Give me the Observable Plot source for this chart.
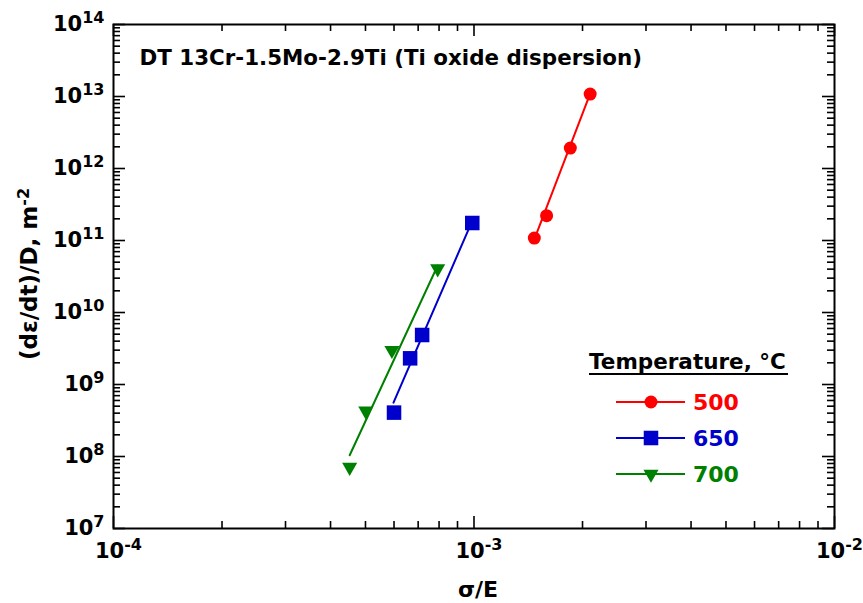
<!DOCTYPE html>
<html><head><meta charset="utf-8">
<script src="https://cdn.jsdelivr.net/npm/d3@7"></script>
<script src="https://cdn.jsdelivr.net/npm/@observablehq/plot@0.6"></script>
<style>body{margin:0;background:#fff} #chart svg{display:block}</style>
</head><body><div id="chart"></div>
<script>
// ---- data ----
const temps = ["500", "650", "700"];
const colors = ["#ff0000", "#0000cc", "#008000"];
const x500 = [1.47e-3, 1.59e-3, 1.85e-3, 2.10e-3];
const y500 = [1.08e11, 2.21e11, 1.92e12, 1.08e13];
const x650 = [6.0e-4, 6.65e-4, 7.18e-4, 9.89e-4];
const y650 = [4.07e8, 2.31e9, 4.87e9, 1.75e11];
const x700 = [4.52e-4, 5.01e-4, 5.92e-4, 7.93e-4];
const y700 = [7.1e7, 4.29e8, 2.98e9, 4.06e10];
// fitted lines (end points)
const fitX500 = [1.49e-3, 2.09e-3];
const fitY500 = [1.24e11, 1.03e13];
const fitX650 = [5.98e-4, 9.7e-4];
const fitY650 = [5.6e8, 1.5e11];
const fitX700 = [4.52e-4, 7.93e-4];
const fitY700 = [1.04e8, 4.5e10];
const xMajor = [1e-4, 1e-3, 1e-2];
const xTickLabels = ["10^-4", "10^-3", "10^-2"];
const yMajor = [1e7, 1e8, 1e9, 1e10, 1e11, 1e12, 1e13, 1e14];
const yTickLabels = ["10^7", "10^8", "10^9", "10^10", "10^11", "10^12", "10^13", "10^14"];
const titleText = "DT 13Cr-1.5Mo-2.9Ti (Ti oxide dispersion)";
const xLabel = "σ/E";
const yLabel = "(dε/dt)/D, m^-2";
const legendTitle = "Temperature, °C";

// ---- build tables ----
const xs = [x500, x650, x700], ys = [y500, y650, y700];
const fx = [fitX500, fitX650, fitX700], fy = [fitY500, fitY650, fitY700];
const pts = temps.flatMap((t, i) => xs[i].map((x, j) => ({t, x, y: ys[i][j]})));
const fits = temps.flatMap((t, i) => fx[i].map((x, j) => ({t, x, y: fy[i][j]})));
const minors = majors => majors.slice(0, -1).flatMap(m => [2,3,4,5,6,7,8,9].map(k => k * m));
const xMinor = minors(xMajor), yMinor = minors(yMajor);

const W = 863, H = 603, mL = 113, mR = 29, mT = 24, mB = 75;
const iw = W - mL - mR, ih = H - mT - mB;
const FONT = "'DejaVu Sans', Verdana, sans-serif";
const symbolOf = {"500": "circle", "650": "square", "700": "triangle"};
const rOf = {"500": 6.5, "650": 8.2, "700": 5.6};

const marks = [
  // inward ticks
  Plot.tickX(xMajor, {x: d => d, insetTop: ih - 12, strokeWidth: 1.6}),
  Plot.tickX(xMinor, {x: d => d, insetTop: ih - 7, strokeWidth: 1.6}),
  Plot.tickX(xMajor, {x: d => d, insetBottom: ih - 12, strokeWidth: 1.6}),
  Plot.tickX(xMinor, {x: d => d, insetBottom: ih - 7, strokeWidth: 1.6}),
  Plot.tickY(yMajor, {y: d => d, insetRight: iw - 12, strokeWidth: 1.6}),
  Plot.tickY(yMinor, {y: d => d, insetRight: iw - 7, strokeWidth: 1.6}),
  Plot.tickY(yMajor, {y: d => d, insetLeft: iw - 12, strokeWidth: 1.6}),
  Plot.tickY(yMinor, {y: d => d, insetLeft: iw - 7, strokeWidth: 1.6}),
  Plot.frame({stroke: "#000", strokeWidth: 2}),
  Plot.axisX({ticks: xMajor, tickSize: 0, tickPadding: 15, dx: 5, fontSize: 21,
    tickFormat: d => xTickLabels[xMajor.indexOf(d)], label: null}),
  Plot.axisY({ticks: yMajor, tickSize: 0, tickPadding: 9, fontSize: 21,
    tickFormat: d => yTickLabels[yMajor.indexOf(d)], label: null}),
  Plot.line(fits, {x: "x", y: "y", z: "t", stroke: "t", strokeWidth: 2}),
  ...temps.map(t => Plot.dot(pts.filter(d => d.t === t), {
    x: "x", y: "y", fill: "t", stroke: null, symbol: () => symbolOf[t], r: rOf[t],
    rotate: t === "700" ? 180 : 0
  })),
  Plot.text([titleText], {frameAnchor: "top-left", dx: 26, dy: 25, lineAnchor: "top",
    textAnchor: "start", fontSize: 21.4, fontWeight: "bold"}),
  Plot.text([xLabel], {frameAnchor: "bottom", dy: 61, dx: 4, lineAnchor: "middle",
    fontSize: 22, fontWeight: "bold"})
];

const svg = Plot.plot({
  width: W, height: H, marginLeft: mL, marginRight: mR, marginTop: mT, marginBottom: mB,
  x: {type: "log", domain: [1e-4, 1e-2]},
  y: {type: "log", domain: [1e7, 1e14]},
  color: {domain: temps, range: colors},
  symbol: {domain: ["circle", "square", "triangle"], range: ["circle", "square", "triangle"]},
  style: {fontFamily: FONT, fontWeight: "bold", color: "#000", background: "#fff", overflow: "visible"},
  marks
});

// y-axis title (rotated)
d3.select(svg).append("text")
  .attr("transform", "translate(29,274) rotate(-90)")
  .attr("text-anchor", "middle").attr("dy", "0.36em")
  .attr("font-family", FONT).attr("font-weight", "bold").attr("font-size", 23)
  .attr("fill", "#000").text(yLabel);

// superscripts
d3.select(svg).selectAll("text").each(function() {
  const el = this;
  const s = el.textContent;
  if (!s.includes("^") || el.querySelector("tspan")) return;
  const [base, exp] = s.split("^");
  el.textContent = "";
  const ns = "http://www.w3.org/2000/svg";
  const t1 = document.createElementNS(ns, "tspan"); t1.textContent = base;
  const t2 = document.createElementNS(ns, "tspan"); t2.textContent = exp;
  t2.setAttribute("font-size", "16");
  t2.setAttribute("dy", "-8");
  el.appendChild(t1); el.appendChild(t2);
});

// legend
const lg = d3.select(svg).append("g").attr("font-family", FONT).attr("font-weight", "bold")
  .attr("text-anchor", "start");
lg.append("text").attr("x", 589).attr("y", 369).attr("font-size", 21.5).attr("fill", "#000")
  .text(legendTitle);
lg.append("line").attr("x1", 589).attr("x2", 788).attr("y1", 374).attr("y2", 374)
  .attr("stroke", "#000").attr("stroke-width", 2);
const symD3 = {"500": d3.symbolCircle, "650": d3.symbolSquare, "700": d3.symbolTriangle};
temps.forEach((t, i) => {
  const y = 402 + i * 36;
  lg.append("line").attr("x1", 616).attr("x2", 685).attr("y1", y).attr("y2", y)
    .attr("stroke", colors[i]).attr("stroke-width", 2);
  lg.append("path").attr("d", d3.symbol(symD3[t], rOf[t] * rOf[t] * Math.PI)())
    .attr("transform", `translate(651,${y})` + (t === "700" ? " rotate(180)" : ""))
    .attr("fill", colors[i]);
  lg.append("text").attr("x", 693).attr("y", y).attr("dy", "0.36em").attr("font-size", 22)
    .attr("fill", colors[i]).text(t);
});

document.getElementById("chart").appendChild(svg);
</script>
</body></html>
